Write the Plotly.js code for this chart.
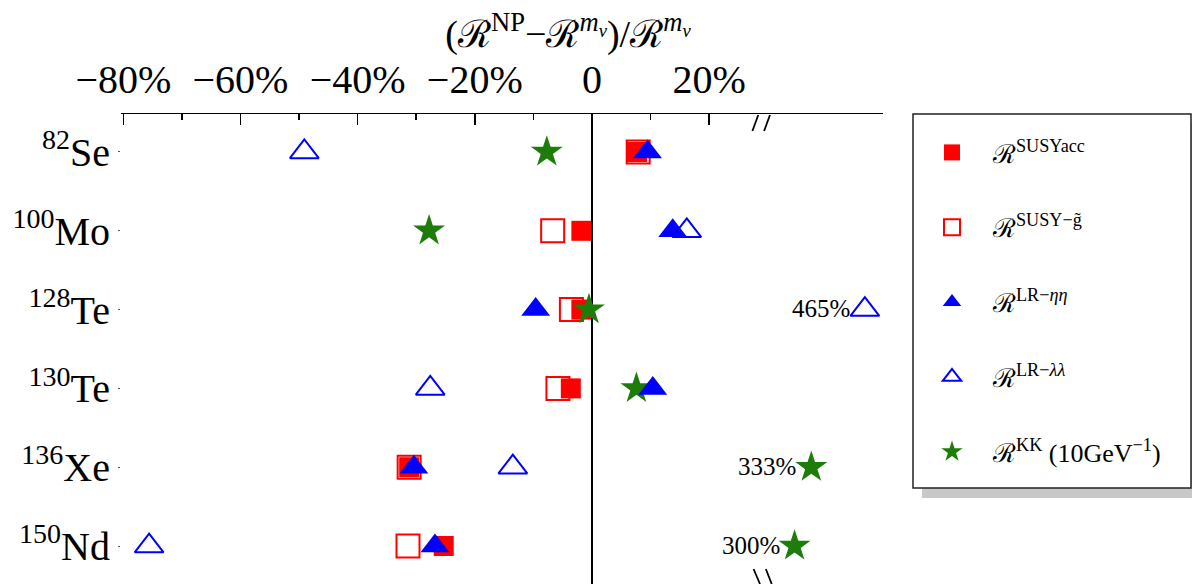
<!DOCTYPE html>
<html><head><meta charset="utf-8">
<script src="https://cdn.plot.ly/plotly-3.0.1.min.js"></script>
<style>html,body{margin:0;padding:0;background:#fff}</style>
</head><body><div id="chart" style="width:1192px;height:584px"></div>
<script>
const isotopes = ['82Se','100Mo','128Te','130Te','136Xe','150Nd'];
const massNumbers = ['82','100','128','130','136','150'];
const elements = ['Se','Mo','Te','Te','Xe','Nd'];
// relative deviation (%) from the light-neutrino-exchange ratio
const susyAcc        = [7.7, -1.8, -1.8, -3.6, -31.2, -25.3];
const susyGluino     = [7.9, -6.7, -3.5, -5.8, -31.2, -31.4];
const lrEtaEta       = [9.5, 13.8, -9.6, 10.4, -30.4, -26.8];
const lrLambdaLambda = [-49.1, 16.2, 465, -27.6, -13.5, -75.6];
const kk             = [-7.7, -27.8, -0.5, 7.6, 333, 300];
const tickVals = [-80, -60, -40, -20, 0, 20];
const tickText = ['−80%', '−60%', '−40%', '−20%', '0', '20%'];
const minorVals = [-70, -50, -30, -10, 10];

const FONT = '"Liberation Serif", "Times New Roman", serif';
const BREAK = 30;
// broken axis: values beyond the break are drawn on a compressed log segment
function axisPos(v){ return v <= BREAK ? v : 34.6 + 63.06 * Math.log10(v / 300); }

const ticklabels = massNumbers.map((m, i) => '<sup>' + m + '</sup>' + elements[i]);

function series(name, vals, symbol, color, size, lw, rank){
  return {
    type: 'scatter', mode: 'markers', name: name,
    x: vals.map(axisPos), y: isotopes,
    marker: {symbol: symbol, color: color, size: size, line: {color: color, width: lw}},
    cliponaxis: false, legendgroup: name, legendrank: rank, hoverinfo: 'x+y'
  };
}

const traces = [
  series('ℛ<sup>SUSY−g̃</sup>', susyGluino, 'square-open', '#ff0000', 23, 2, 2),
  series('ℛ<sup>SUSYacc</sup>', susyAcc, 'square', '#ff0000', 20, 0, 1),
  series('ℛ<sup>KK</sup> (10GeV<sup>−1</sup>)', kk, 'star', '#1e7d0a', 24, 0, 5),
  series('ℛ<sup>LR−<i>ηη</i></sup>', lrEtaEta, 'triangle-up', '#0000ff', 25, 0, 3),
  series('ℛ<sup>LR−<i>λλ</i></sup>', lrLambdaLambda, 'triangle-up-open', '#0000ff', 25, 2, 4)
];

// labels for the values that lie beyond the axis break
const breakAnnotations = [];
[lrLambdaLambda, kk].forEach(vals => vals.forEach((v, i) => {
  if (v > BREAK) breakAnnotations.push({
    xref: 'x', yref: 'y', x: axisPos(v), y: isotopes[i], text: v + '%',
    showarrow: false, xanchor: 'right', yanchor: 'middle', xshift: -13, yshift: 1,
    font: {family: FONT, size: 25, color: '#000'}
  });
}));

const L = 121, R = 309, T = 114, B = 0, W = 1192, H = 584;
const pw = W - L - R, ph = H - T - B;
const px = v => (v - L) / pw, py = v => (H - B - v) / ph;

const xrange = [-80.4, 49.7];
const layout = {
  width: W, height: H,
  margin: {l: L, r: R, t: T, b: B, pad: 0},
  paper_bgcolor: '#fff', plot_bgcolor: '#fff',
  font: {family: FONT, color: '#000'},
  showlegend: true,
  title: {
    text: '(ℛ<sup>NP</sup>−ℛ<sup><i>m<sub>ν</sub></i></sup>)/ℛ<sup><i>m<sub>ν</sub></i></sup>',
    font: {family: FONT, size: 38, color: '#000'},
    xref: 'paper', x: px(568), xanchor: 'center',
    yref: 'container', y: 1 - 34 / H, yanchor: 'middle'
  },
  xaxis: {
    side: 'top', range: xrange, showgrid: false,
    showline: true, linecolor: '#000', linewidth: 1.5, mirror: false,
    zeroline: true, zerolinecolor: '#000', zerolinewidth: 1.5,
    ticks: 'inside', ticklen: 11, tickwidth: 1.5, tickcolor: '#000',
    tickmode: 'array', tickvals: tickVals, ticktext: tickText,
    tickfont: {family: FONT, size: 40, color: '#000'}, ticklabelstandoff: 4,
    minor: {tickmode: 'array', tickvals: minorVals, ticks: 'inside', ticklen: 6, tickwidth: 1.5, tickcolor: '#000', showgrid: false},
    fixedrange: true
  },
  xaxis2: {
    overlaying: 'x', side: 'bottom', anchor: 'y', range: xrange, showgrid: false,
    showline: false, zeroline: false, showticklabels: false,
    ticks: 'inside', ticklen: 11, tickwidth: 1.5, tickcolor: '#000',
    tickmode: 'array', tickvals: tickVals,
    minor: {tickmode: 'array', tickvals: minorVals, ticks: 'inside', ticklen: 6, tickwidth: 1.5, tickcolor: '#000', showgrid: false},
    fixedrange: true
  },
  yaxis: {
    type: 'category', categoryorder: 'array', categoryarray: isotopes,
    range: [5.482, -0.482], showgrid: false, zeroline: false, showline: false,
    ticks: 'outside', ticklen: 2, tickwidth: 1, tickcolor: '#555',
    tickmode: 'array', tickvals: isotopes, ticktext: ticklabels,
    tickfont: {family: FONT, size: 40, color: '#000'},
    fixedrange: true
  },
  legend: {
    x: px(911), y: py(129), xanchor: 'left', yanchor: 'top',
    bgcolor: 'rgba(0,0,0,0)', borderwidth: 0,
    font: {family: FONT, size: 26, color: '#000'},
    traceorder: 'grouped', tracegroupgap: 38, itemsizing: 'trace', itemwidth: 72
  },
  annotations: breakAnnotations,
  shapes: [
    {type: 'rect', xref: 'paper', yref: 'paper', x0: px(922), x1: px(1204), y0: py(498), y1: py(123),
     fillcolor: '#c8c8c8', line: {width: 0}, layer: 'below'},
    {type: 'rect', xref: 'paper', yref: 'paper', x0: px(913), x1: px(1191), y0: py(488), y1: py(114),
     fillcolor: '#ffffff', line: {color: '#222', width: 1.5}, layer: 'below'},
    {type: 'line', xref: 'x', yref: 'paper', x0: 27.4, x1: 28.4, y0: py(131), y1: py(115), line: {color: '#000', width: 1.8}},
    {type: 'line', xref: 'x', yref: 'paper', x0: 29.4, x1: 30.4, y0: py(131), y1: py(115), line: {color: '#000', width: 1.8}},
    {type: 'line', xref: 'x', yref: 'paper', x0: 27.6, x1: 28.7, y0: py(569), y1: py(584), line: {color: '#000', width: 1.8}},
    {type: 'line', xref: 'x', yref: 'paper', x0: 29.7, x1: 30.7, y0: py(569), y1: py(584), line: {color: '#000', width: 1.8}}
  ]
};

Plotly.newPlot('chart', traces, layout, {staticPlot: true, displayModeBar: false});
</script></body></html>
